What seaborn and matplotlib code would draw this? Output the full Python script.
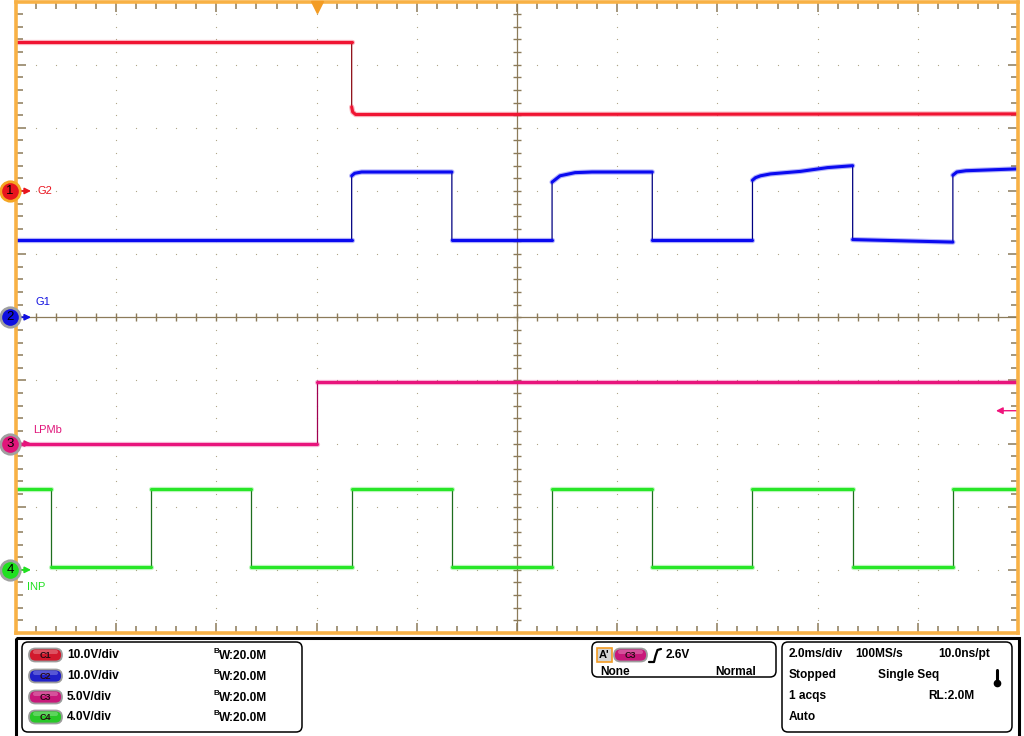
"""Scope capture: G2 / G1 gate drive, LPMb enable and INP clock (4 channels)."""

import matplotlib
matplotlib.use("Agg")
import matplotlib.pyplot as plt
import numpy as np
import pandas as pd
import seaborn as sns
from matplotlib.patches import FancyBboxPatch, Rectangle

# --- acquisition settings --------------------------------------------------
TIME_PER_DIV = 2.0            # ms/div
T_LEFT, T_RIGHT = -6.0, 14.0  # ms on screen (trigger at 0)
CH_NAMES = ["G2", "G1", "LPMb", "INP"]
CH_SCALE = [10.0, 10.0, 5.0, 4.0]      # V/div
CH_POS = [2.0, 0.0, -2.0, -4.0]        # ground marker position, div
TRIG_LEVEL = 2.6                       # V on C3

# --- waveform vertices (time ms, volts) ------------------------------------
T1 = [-6.0, 0.70, 0.70, 0.72, 0.78, 14.0]
V1 = [23.6, 23.6, 13.3, 12.5, 12.1, 12.2]

T2 = [-6.0, 0.70, 0.70, 0.76, 0.90, 2.70, 2.70, 4.70, 4.70, 4.86, 5.16, 5.50,
      6.70, 6.70, 8.70, 8.70, 8.76, 8.86, 9.06, 9.66, 10.20, 10.70, 10.70,
      12.70, 12.70, 12.78, 12.96, 14.0]
V2 = [12.2, 12.2, 22.4, 22.8, 23.0, 23.0, 12.2, 12.2, 21.4, 22.4, 22.9, 23.0,
      23.0, 12.2, 12.2, 21.7, 22.1, 22.4, 22.7, 23.1, 23.7, 24.0, 12.3,
      11.9, 22.5, 23.0, 23.2, 23.5]

T3 = [-6.0, 0.0, 0.0, 14.0]
V3 = [0.0, 0.0, 4.9, 4.9]

T4 = [-6.0, -5.3, -5.3, -3.3, -3.3, -1.3, -1.3, 0.7, 0.7, 2.7, 2.7, 4.7, 4.7,
      6.7, 6.7, 8.7, 8.7, 10.7, 10.7, 12.7, 12.7, 14.0]
V4 = [5.1, 5.1, 0.2, 0.2, 5.1, 5.1, 0.2, 0.2, 5.1, 5.1, 0.2, 0.2, 5.1,
      5.1, 0.2, 0.2, 5.1, 5.1, 0.2, 0.2, 5.1, 5.1]

TRACES = [(T1, V1), (T2, V2), (T3, V3), (T4, V4)]

# --- look --------------------------------------------------------------------
TRACE_COL = ["#F01432", "#0A0AF0", "#E8147C", "#28E628"]
EDGE_COL = ["#8C0A14", "#000080", "#A00050", "#1E6E1E"]
MARK_COL = ["#E8141E", "#1010E0", "#E0157A", "#20E020"]
RING_COL = ["#F5A623", "#A0A0A0", "#A0A0A0", "#A0A0A0"]
PILL_COL = ["#D2192D", "#2020C8", "#C8187A", "#28C828"]
ORANGE = "#F8B145"
GRID = "#8C7B5A"
DOT = "#B0A689"

sns.set_theme(style="white")
plt.rcParams["font.family"] = ["Liberation Sans", "DejaVu Sans"]

W, H = 1024, 736
AX_L, AX_R, AX_T, AX_B = 16, 1018, 1.5, 633  # screen area in pixels

fig = plt.figure(figsize=(W / 100, H / 100), dpi=100)
fig.patch.set_facecolor("white")
ax = fig.add_axes([AX_L / W, (H - AX_B) / H, (AX_R - AX_L) / W, (AX_B - AX_T) / H])
ax.set_xlim(T_LEFT, T_RIGHT)
ax.set_ylim(-5, 5)
ax.set_facecolor("white")


def px2ax(px):
    return (px - AX_L) / (AX_R - AX_L)


# graticule: dotted division lines, solid centre cross
t_mid = (T_LEFT + T_RIGHT) / 2
vlines = [t for t in np.arange(T_LEFT + TIME_PER_DIV, T_RIGHT, TIME_PER_DIV) if abs(t - t_mid) > 1e-6]
hlines = [y for y in range(-4, 5) if y != 0]
ydots = np.arange(-4.8, 4.81, 0.2)
xdots = np.arange(T_LEFT + 0.4, T_RIGHT - 0.01, 0.4)
for t in vlines:
    ax.plot(np.full_like(ydots, t), ydots, ls="none", marker="s", ms=0.8, mew=0, color=DOT, zorder=1)
for y in hlines:
    ax.plot(xdots, np.full_like(xdots, y), ls="none", marker="s", ms=0.8, mew=0, color=DOT, zorder=1)
ax.axvline(t_mid, color=GRID, lw=0.9, zorder=1)
ax.axhline(0, color=GRID, lw=0.9, zorder=1)
ax.plot(xdots, np.zeros_like(xdots), ls="none", marker="|", ms=6, mew=1.0, color=GRID, zorder=1)
ax.plot(np.full_like(ydots, t_mid), ydots, ls="none", marker="_", ms=6, mew=1.0, color=GRID, zorder=1)

ax.set_xticks(np.arange(T_LEFT, T_RIGHT + 0.01, TIME_PER_DIV))
ax.set_xticks(np.arange(T_LEFT, T_RIGHT + 0.01, TIME_PER_DIV / 5), minor=True)
ax.set_yticks(np.arange(-5, 5.01, 1))
ax.set_yticks(np.arange(-5, 5.01, 0.2), minor=True)
ax.tick_params(which="both", direction="in", top=True, right=True, bottom=True, left=True,
               labelleft=False, labelbottom=False, color=GRID, width=1.1)
ax.tick_params(which="major", length=7)
ax.tick_params(which="minor", length=5)
for sp in ax.spines.values():
    sp.set_color(ORANGE)
    sp.set_linewidth(2.6)
    sp.set_zorder(6)

# traces: thin dark edges, bright plateaus
for i, (tt, vv) in enumerate(TRACES):
    y = CH_POS[i] + np.asarray(vv) / CH_SCALE[i]
    tt = np.asarray(tt)
    seg = np.cumsum(np.r_[0, (np.diff(tt) == 0).astype(int)])
    df = pd.DataFrame({"t": tt, "y": y, "seg": seg})
    sns.lineplot(data=df, x="t", y="y", estimator=None, sort=False, color=EDGE_COL[i],
                 lw=0.9, ax=ax, zorder=3)
    sns.lineplot(data=df, x="t", y="y", units="seg", estimator=None, sort=False,
                 color=TRACE_COL[i], lw=3.8, alpha=0.3, ax=ax, zorder=4)
    sns.lineplot(data=df, x="t", y="y", units="seg", estimator=None, sort=False,
                 color=TRACE_COL[i], lw=2.2, ax=ax, zorder=4)
ax.set_xlabel("")
ax.set_ylabel("")

# channel ground markers with labels
ytr = ax.get_yaxis_transform()
label_dy = [0.0, 0.24, 0.21, -0.27]
label_px = [37, 35, 33, 27]
for i, name in enumerate(CH_NAMES):
    y0 = CH_POS[i]
    ax.annotate("", xy=(px2ax(31), y0), xytext=(px2ax(17), y0), xycoords=ytr, textcoords=ytr,
                arrowprops=dict(arrowstyle="-|>", color=MARK_COL[i], lw=1.2,
                                mutation_scale=9, shrinkA=0, shrinkB=0), annotation_clip=False)
    ax.plot([px2ax(10)], [y0], transform=ytr, marker="o", ms=14, mfc=MARK_COL[i],
            mec=RING_COL[i], mew=2.0, clip_on=False, zorder=8)
    ax.text(px2ax(10), y0, str(i + 1), transform=ytr, ha="center", va="center",
            fontsize=9.5, color="black", clip_on=False, zorder=9)
    ax.text(px2ax(label_px[i]), y0 + label_dy[i], name, transform=ytr, ha="left",
            va="center", fontsize=8, color=MARK_COL[i], zorder=9)

# trigger position (top) and trigger level (right)
xtr = ax.get_xaxis_transform()
ax.plot([0.0], [0.992], transform=xtr, marker="v", ms=8, color="#F39C24", mec="#F39C24",
        clip_on=False, zorder=9)
trig_y = CH_POS[2] + TRIG_LEVEL / CH_SCALE[2]
ax.annotate("", xy=(px2ax(996), trig_y), xytext=(px2ax(1018), trig_y), xycoords=ytr,
            textcoords=ytr, arrowprops=dict(arrowstyle="-|>", color="#F0147C", lw=1.0,
                                            mutation_scale=10, shrinkA=0, shrinkB=0))

# --- readout panel (pixel coordinates) ---------------------------------------
ov = fig.add_axes([0, 0, 1, 1], zorder=10)
ov.set_xlim(0, W)
ov.set_ylim(H, 0)
ov.axis("off")

ov.add_patch(Rectangle((16, 637.5), 1003, 100, fill=False, ec="black", lw=2.2))
for (x0, y0, x1, y1) in [(22, 642, 302, 732), (592, 642, 776, 677), (782, 642, 1012, 732)]:
    ov.add_patch(FancyBboxPatch((x0, y0), x1 - x0, y1 - y0, boxstyle="round,pad=0,rounding_size=6",
                                fc="white", ec="black", lw=1.1))

FONT = dict(fontsize=8.6, fontweight="bold", color="black", va="center")


def pill(x, y, label, col):
    ov.add_patch(FancyBboxPatch((x, y - 6.5), 33, 13, boxstyle="round,pad=0,rounding_size=6.5",
                                fc=col, ec="#9C9C9C", lw=1.3))
    ov.add_patch(FancyBboxPatch((x + 4, y - 5), 25, 4, boxstyle="round,pad=0,rounding_size=2",
                                fc="white", ec="none", alpha=0.25))
    ov.text(x + 16.5, y + 0.5, label, ha="center", va="center", fontsize=6.5,
            fontweight="bold", color="#2A0A14")


rows = [655, 676, 697, 717]
for i in range(4):
    pill(29, rows[i], f"C{i + 1}", PILL_COL[i])
    ov.text(67, rows[i], f"{CH_SCALE[i]:.1f}V/div", **FONT)
    ov.text(214, rows[i] - 3.5, "B", fontsize=5.8, fontweight="bold", color="black", va="center")
    ov.text(219, rows[i] + 1, "W:20.0M", **FONT)

ov.add_patch(Rectangle((597, 648), 15, 14, fc="#D4D4D4", ec="#F39C24", lw=1.2))
ov.text(599, 655, "A'", fontsize=8, fontweight="bold", color="black", va="center")
pill(614, 655, "C3", PILL_COL[2])
ov.plot([649, 654, 655.5, 657.5, 661], [662, 662, 656, 650, 649], color="black", lw=1.6)
ov.text(666, 655, f"{TRIG_LEVEL}V", **FONT)
ov.text(600, 672, "None", **FONT)
ov.text(715, 672, "Normal", **FONT)

ov.text(789, 654, "2.0ms/div", **FONT)
ov.text(855, 654, "100MS/s", **FONT)
ov.text(938, 654, "10.0ns/pt", **FONT)
ov.text(789, 675, "Stopped", **FONT)
ov.text(878, 675, "Single Seq", **FONT)
ov.text(789, 696, "1 acqs", **FONT)
ov.text(928, 696, "RL:2.0M", **FONT)
ov.text(789, 717, "Auto", **FONT)
ov.plot([996.5, 996.5], [670, 682], color="black", lw=2.2, solid_capstyle="round")
ov.plot([996.5], [682.5], marker="o", ms=4.5, color="black")

fig.savefig("out.png", dpi=100, facecolor="white")
